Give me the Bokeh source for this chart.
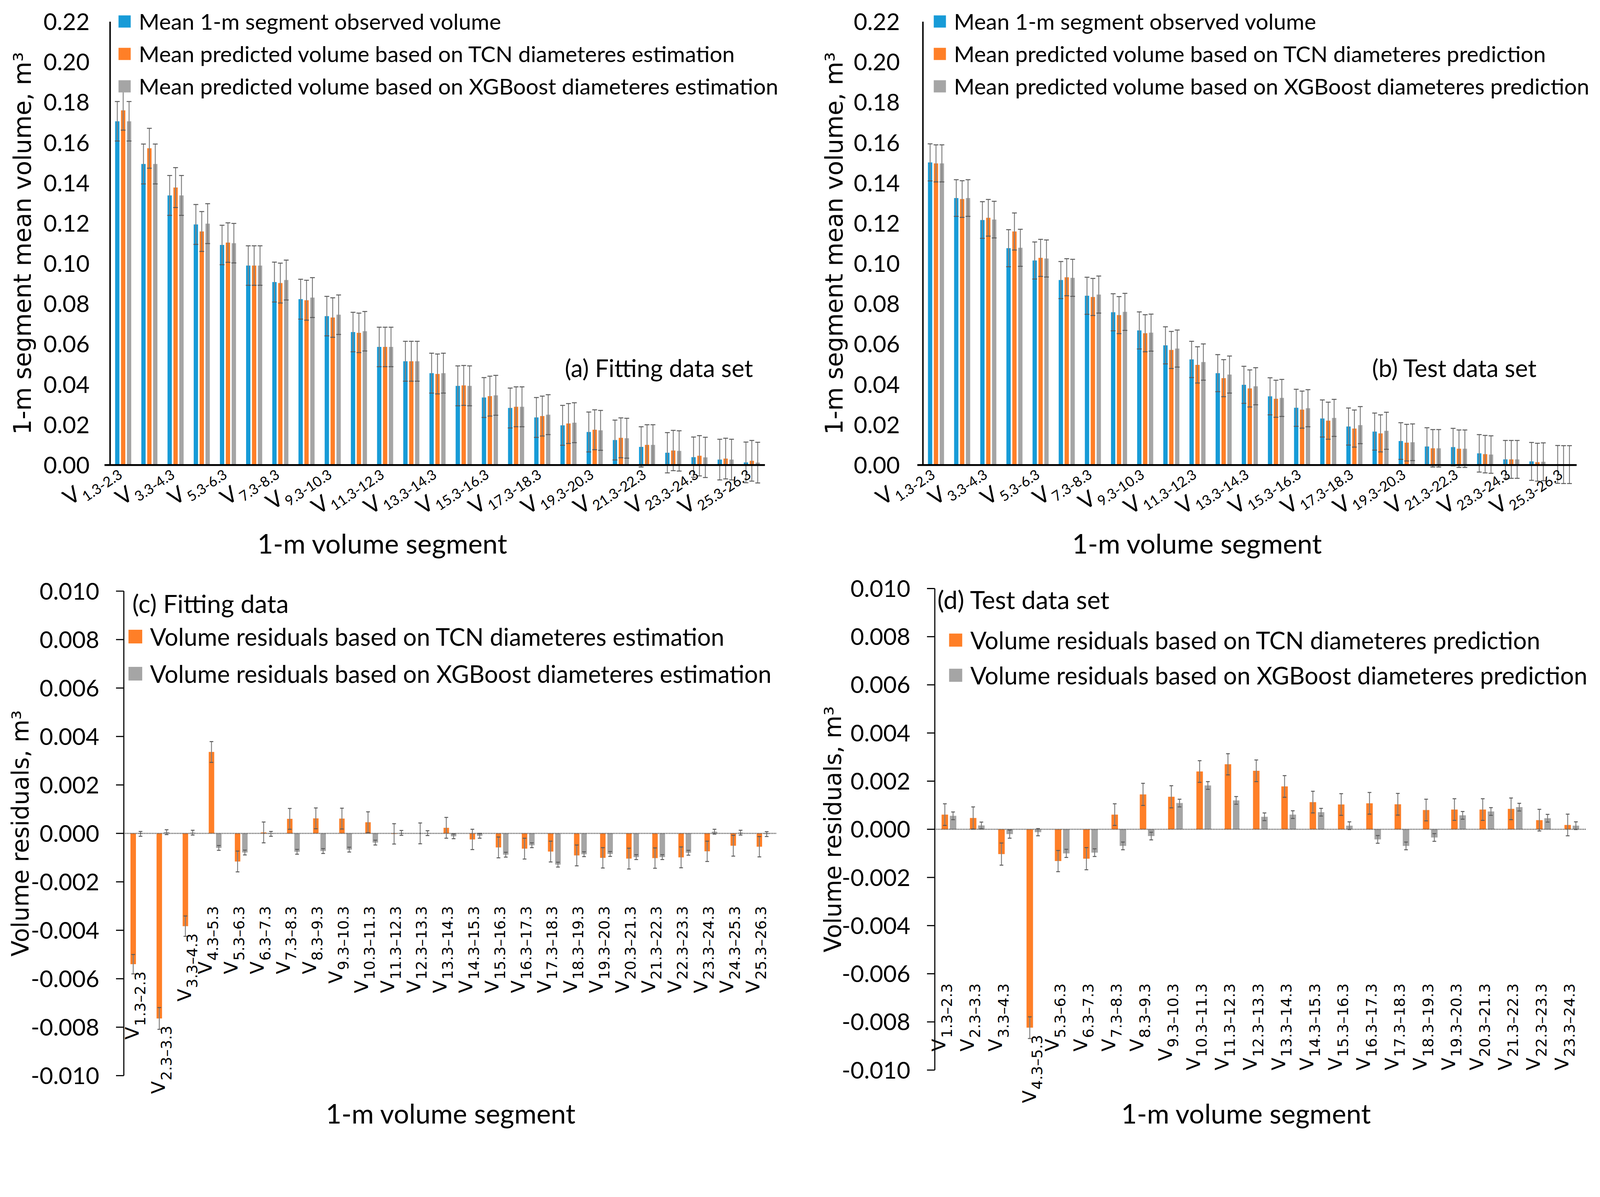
import math
from bokeh.plotting import figure
from bokeh.models import (ColumnDataSource, Legend, LegendItem, Range1d)
from bokeh.transform import dodge
from bokeh.layouts import row, column
from bokeh.core.properties import value
from bokeh.embed import file_html
from bokeh.resources import INLINE

# ---------------------------------------------------------------- data
segments_ab = ["1.3-2.3", "2.3-3.3", "3.3-4.3", "4.3-5.3", "5.3-6.3", "6.3-7.3",
               "7.3-8.3", "8.3-9.3", "9.3-10.3", "10.3-11.3", "11.3-12.3",
               "12.3-13.3", "13.3-14.3", "14.3-15.3", "15.3-16.3", "16.3-17.3",
               "17.3-18.3", "18.3-19.3", "19.3-20.3", "20.3-21.3", "21.3-22.3",
               "22.3-23.3", "23.3-24.3", "24.3-25.3", "25.3-26.3"]
tick_labels_ab = ["1.3-2.3", "3.3-4.3", "5.3-6.3", "7.3-8.3", "9.3-10.3",
                  "11.3-12.3", "13.3-14.3", "15.3-16.3", "17.3-18.3",
                  "19.3-20.3", "21.3-22.3", "23.3-24.3", "25.3-26.3"]

fit_observed = [0.1706, 0.1494, 0.1338, 0.1194, 0.1092, 0.0990, 0.0908, 0.0823,
                0.0739, 0.0660, 0.0586, 0.0515, 0.0456, 0.0393, 0.0335, 0.0283,
                0.0236, 0.0197, 0.0164, 0.0124, 0.0090, 0.0061, 0.0039, 0.0027, 0.0013]
fit_tcn = [0.1760, 0.1572, 0.1377, 0.1159, 0.1104, 0.0990, 0.0903, 0.0818,
           0.0732, 0.0656, 0.0586, 0.0515, 0.0452, 0.0395, 0.0342, 0.0289,
           0.0243, 0.0206, 0.0175, 0.0135, 0.0100, 0.0072, 0.0046, 0.0032, 0.0021]
fit_xgb = [0.1706, 0.1494, 0.1338, 0.1198, 0.1101, 0.0990, 0.0918, 0.0831,
           0.0746, 0.0664, 0.0586, 0.0515, 0.0456, 0.0393, 0.0346, 0.0289,
           0.0250, 0.0210, 0.0172, 0.0133, 0.0100, 0.0070, 0.0038, 0.0027, 0.0012]
fit_observed_err = [0.0098, 0.0099, 0.0099, 0.0099, 0.0098, 0.0098, 0.0099, 0.0099,
                    0.0098, 0.0098, 0.0098, 0.0099, 0.0099, 0.0099, 0.0099, 0.0099,
                    0.0099, 0.0099, 0.0099, 0.0099, 0.0100, 0.0100, 0.0100, 0.0101, 0.0101]
fit_tcn_err = [0.0098, 0.0099, 0.0099, 0.0099, 0.0098, 0.0098, 0.0099, 0.0099,
               0.0098, 0.0098, 0.0098, 0.0099, 0.0099, 0.0099, 0.0099, 0.0099,
               0.0099, 0.0099, 0.0099, 0.0099, 0.0100, 0.0100, 0.0100, 0.0101, 0.0101]
fit_xgb_err = [0.0098, 0.0099, 0.0099, 0.0099, 0.0098, 0.0098, 0.0099, 0.0099,
               0.0098, 0.0098, 0.0098, 0.0099, 0.0099, 0.0099, 0.0099, 0.0099,
               0.0099, 0.0099, 0.0099, 0.0099, 0.0100, 0.0100, 0.0100, 0.0101, 0.0101]

test_observed = [0.1502, 0.1325, 0.1216, 0.1076, 0.1015, 0.0918, 0.0840, 0.0758,
                 0.0668, 0.0594, 0.0524, 0.0456, 0.0398, 0.0341, 0.0284, 0.0231,
                 0.0191, 0.0166, 0.0119, 0.0092, 0.0089, 0.0058, 0.0028, 0.0018, 0.0003]
test_tcn = [0.1497, 0.1320, 0.1227, 0.1159, 0.1028, 0.0932, 0.0834, 0.0744,
            0.0654, 0.0571, 0.0497, 0.0431, 0.0380, 0.0329, 0.0275, 0.0220,
            0.0181, 0.0157, 0.0111, 0.0083, 0.0081, 0.0054, 0.0028, 0.0014, 0.0002]
test_xgb = [0.1497, 0.1325, 0.1218, 0.1078, 0.1025, 0.0929, 0.0846, 0.0760,
            0.0657, 0.0578, 0.0511, 0.0449, 0.0391, 0.0333, 0.0282, 0.0234,
            0.0198, 0.0170, 0.0113, 0.0083, 0.0081, 0.0052, 0.0028, 0.0016, 0.0002]
test_observed_err = [0.0092, 0.0091, 0.0091, 0.0092, 0.0092, 0.0092, 0.0092, 0.0092,
                     0.0092, 0.0092, 0.0090, 0.0092, 0.0092, 0.0092, 0.0092, 0.0092,
                     0.0092, 0.0092, 0.0091, 0.0093, 0.0093, 0.0093, 0.0094, 0.0094, 0.0094]
test_tcn_err = [0.0092, 0.0091, 0.0091, 0.0092, 0.0092, 0.0092, 0.0092, 0.0092,
                0.0092, 0.0092, 0.0090, 0.0092, 0.0092, 0.0092, 0.0092, 0.0092,
                0.0092, 0.0092, 0.0091, 0.0093, 0.0093, 0.0093, 0.0094, 0.0094, 0.0094]
test_xgb_err = [0.0092, 0.0091, 0.0091, 0.0092, 0.0092, 0.0092, 0.0092, 0.0092,
                0.0092, 0.0092, 0.0090, 0.0092, 0.0092, 0.0092, 0.0092, 0.0092,
                0.0092, 0.0092, 0.0091, 0.0093, 0.0093, 0.0093, 0.0094, 0.0094, 0.0094]

segments_c = ["1.3–2.3", "2.3–3.3", "3.3–4.3", "4.3–5.3", "5.3–6.3", "6.3–7.3",
              "7.3–8.3", "8.3–9.3", "9.3–10.3", "10.3–11.3", "11.3–12.3",
              "12.3–13.3", "13.3–14.3", "14.3–15.3", "15.3–16.3", "16.3–17.3",
              "17.3–18.3", "18.3–19.3", "19.3–20.3", "20.3–21.3", "21.3–22.3",
              "22.3–23.3", "23.3–24.3", "24.3–25.3", "25.3–26.3"]
res_fit_tcn = [-0.00540, -0.00764, -0.00383, 0.00336, -0.00116, 0.00004, 0.00060,
               0.00062, 0.00061, 0.00046, -0.00002, 0.00000, 0.00023, -0.00025,
               -0.00058, -0.00063, -0.00075, -0.00091, -0.00101, -0.00104,
               -0.00102, -0.00099, -0.00074, -0.00051, -0.00055]
res_fit_xgb = [-0.00002, 0.00005, 0.00003, -0.00060, -0.00079, -0.00002, -0.00076,
               -0.00073, -0.00067, -0.00038, 0.00002, 0.00001, -0.00012, -0.00010,
               -0.00088, -0.00049, -0.00129, -0.00086, -0.00085, -0.00098,
               -0.00098, -0.00080, 0.00007, 0.00003, -0.00003]
res_fit_tcn_err = [0.00040, 0.00045, 0.00042, 0.00043, 0.00043, 0.00043, 0.00043,
                   0.00043, 0.00043, 0.00043, 0.00042, 0.00043, 0.00043, 0.00042,
                   0.00043, 0.00043, 0.00043, 0.00043, 0.00042, 0.00043, 0.00042,
                   0.00043, 0.00042, 0.00043, 0.00042]
res_fit_xgb_err = [0.00010, 0.00010, 0.00010, 0.00010, 0.00010, 0.00010, 0.00010,
                   0.00010, 0.00010, 0.00010, 0.00010, 0.00010, 0.00010, 0.00010,
                   0.00010, 0.00010, 0.00010, 0.00010, 0.00010, 0.00010, 0.00010,
                   0.00010, 0.00010, 0.00010, 0.00010]

segments_d = ["1.3–2.3", "2.3–3.3", "3.3–4.3", "4.3–5.3", "5.3–6.3", "6.3–7.3",
              "7.3–8.3", "8.3–9.3", "9.3–10.3", "10.3–11.3", "11.3–12.3",
              "12.3–13.3", "13.3–14.3", "14.3–15.3", "15.3–16.3", "16.3–17.3",
              "17.3–18.3", "18.3–19.3", "19.3–20.3", "20.3–21.3", "21.3–22.3",
              "22.3–23.3", "23.3–24.3"]
res_test_tcn = [0.00061, 0.00047, -0.00103, -0.00824, -0.00132, -0.00122, 0.00061,
                0.00145, 0.00135, 0.00240, 0.00270, 0.00243, 0.00178, 0.00113,
                0.00103, 0.00108, 0.00104, 0.00080, 0.00082, 0.00082, 0.00085,
                0.00038, 0.00018]
res_test_xgb = [0.00056, 0.00016, -0.00020, -0.00012, -0.00100, -0.00097, -0.00069,
                -0.00028, 0.00109, 0.00182, 0.00120, 0.00052, 0.00061, 0.00071,
                0.00015, -0.00042, -0.00069, -0.00034, 0.00058, 0.00074, 0.00092,
                0.00046, 0.00015]
res_test_tcn_err = [0.00045, 0.00046, 0.00046, 0.00045, 0.00044, 0.00046, 0.00045,
                    0.00046, 0.00046, 0.00045, 0.00044, 0.00045, 0.00045, 0.00045,
                    0.00045, 0.00045, 0.00045, 0.00045, 0.00045, 0.00045, 0.00045,
                    0.00045, 0.00045]
res_test_xgb_err = [0.00016, 0.00014, 0.00017, 0.00015, 0.00017, 0.00016, 0.00016,
                    0.00016, 0.00016, 0.00016, 0.00016, 0.00016, 0.00016, 0.00016,
                    0.00016, 0.00016, 0.00016, 0.00016, 0.00016, 0.00016, 0.00016,
                    0.00016, 0.00016]

yticks_ab = [0.00, 0.02, 0.04, 0.06, 0.08, 0.10, 0.12, 0.14, 0.16, 0.18, 0.20, 0.22]
ytick_labels_ab = ["0.00", "0.02", "0.04", "0.06", "0.08", "0.10", "0.12", "0.14",
                   "0.16", "0.18", "0.20", "0.22"]
yticks_cd = [-0.010, -0.008, -0.006, -0.004, -0.002, 0.000, 0.002, 0.004, 0.006,
             0.008, 0.010]
ytick_labels_cd = ["-0.010", "-0.008", "-0.006", "-0.004", "-0.002", "0.000",
                   "0.002", "0.004", "0.006", "0.008", "0.010"]

# ---------------------------------------------------------------- style
BLUE = "#179BD7"
ORANGE = "#FF7F27"
GRAY = "#A5A5A5"
ERR = "#7F7F7F"
CAP = "#595959"
CAL = "Lato"          # stand-in for Calibri
VER = "DejaVu Sans"   # stand-in for Verdana

# The page is photographed at about 1.052 device px per CSS px, so every
# size below is given in photographed pixels and divided by K.
K = 4310 / 4096
FW, FH = 2040, 1448           # CSS px of each of the four figures


def c(v):
    return v / K


LATO_W = {"0": .58, "1": .58, "2": .58, "3": .58, "4": .58, "5": .58, "6": .58,
          "7": .58, "8": .58, "9": .58, ".": .26, "-": .35, "–": .5}
DJV_W = {"0": .636, "1": .636, "2": .636, "3": .636, "4": .636, "5": .636,
         "6": .636, "7": .636, "8": .636, "9": .636, ".": .318, "-": .361, "–": .5}


class Panel:
    """A figure whose frame fills the whole canvas.  The chart area spans
    categories -0.5..n-0.5 and y_lo..y_hi between the given edges (device px
    from the figure's top-left)."""

    def __init__(self, n, y_lo, y_hi, left, right, top, bottom):
        self.n, self.y_lo, self.y_hi = n, y_lo, y_hi
        left, right, top, bottom = c(left), c(right), c(top), c(bottom)
        self.ppx = (right - left) / n            # css px per category
        self.ppy = (bottom - top) / (y_hi - y_lo)
        self.x0 = -0.5 - left / self.ppx
        x1 = n - 0.5 + (FW - right) / self.ppx
        self.y1 = y_hi + top / self.ppy
        y0 = y_lo - (FH - bottom) / self.ppy
        p = figure(width=FW, height=FH, output_backend="svg", toolbar_location=None,
                   title=None, x_range=Range1d(self.x0, x1),
                   y_range=Range1d(y0, self.y1),
                   min_border_left=0, min_border_right=0, min_border_top=0,
                   min_border_bottom=0)
        p.xaxis.visible = False
        p.yaxis.visible = False
        p.xgrid.visible = False
        p.ygrid.visible = False
        p.outline_line_color = None
        p.background_fill_color = "white"
        p.border_fill_color = "white"
        self.p = p

    def X(self, px):          # device px from figure left -> data x
        return self.x0 + c(px) / self.ppx

    def Y(self, py):          # device px from figure top -> data y
        return self.y1 - c(py) / self.ppy

    def dx(self, px):
        return c(px) / self.ppx

    def dy(self, px):
        return c(px) / self.ppy

    def text(self, xs, ys, texts, font, size, align="left", baseline="middle",
             angle=0.0):
        src = ColumnDataSource(dict(x=xs, y=ys, t=texts))
        self.p.text(x="x", y="y", text="t", source=src, angle=angle,
                    text_align=align, text_baseline=baseline,
                    text_font=value(font), text_font_size=value(f"{c(size):.2f}px"),
                    text_color="black")

    def yaxis(self, ticks, labels, tick_out, standoff, lw, title, title_px,
              title_size):
        xa = -0.5
        p = self.p
        p.segment(x0=[xa], x1=[xa], y0=[self.y_lo], y1=[self.y_hi],
                  line_color="black", line_width=c(lw))
        if tick_out:
            p.segment(x0=[xa - self.dx(tick_out)] * len(ticks), x1=[xa] * len(ticks),
                      y0=ticks, y1=ticks, line_color="black", line_width=c(3))
        lx = xa - self.dx(tick_out + standoff)
        self.text([lx] * len(ticks), ticks, labels, CAL, 63, "right", "middle")
        self.text([self.X(title_px)], [(self.y_lo + self.y_hi) / 2], [title], VER,
                  title_size, "center", "middle", math.pi / 2)

    def bars(self, vals, errs, off, width, color, cap):
        idx = list(range(self.n))
        src = ColumnDataSource(dict(idx=idx, v=vals,
                                    hi=[v + e for v, e in zip(vals, errs)],
                                    lo=[v - e for v, e in zip(vals, errs)]))
        p = self.p
        r = p.vbar(x=dodge("idx", off), top="v", bottom=0, width=width, source=src,
                   fill_color=color, line_color=None)
        p.segment(x0=dodge("idx", off), x1=dodge("idx", off), y0="lo", y1="hi",
                  source=src, line_color=ERR, line_width=c(2.5))
        for col in ("hi", "lo"):
            p.scatter(x=dodge("idx", off), y=col, marker="dash", size=c(cap),
                      line_color=CAP, line_width=c(2.5), source=src)
        return r

    def sub_labels(self, xs, ybases, exs, subs, theta, font, vsize, ssize, ey,
                   delta, gap, table):
        """'V' followed by a subscripted range, all in device px.  (ex, ey) is
        the screen offset (y down) of the end of the subscript's centre line
        from (x, ybase); delta is how far the V's centre line sits above it."""
        cs, sn = math.cos(theta), math.sin(theta)
        sx, sy, vx, vy = [], [], [], []
        for x, yb, ex, t in zip(xs, ybases, exs, subs):
            w = sum(table.get(ch, 0.55) for ch in t) * ssize
            bx = ex - (w + gap) * cs - delta * sn
            by = ey + (w + gap) * sn - delta * cs
            sx.append(x + self.dx(ex))
            sy.append(yb - self.dy(ey))
            vx.append(x + self.dx(bx))
            vy.append(yb - self.dy(by))
        self.text(sx, sy, subs, font, ssize, "right", "middle", theta)
        self.text(vx, vy, ["V"] * len(subs), font, vsize, "right", "middle", theta)

    def legend(self, items, left_px, top_px, gw, size, standoff, spacing, lh):
        gw, standoff, spacing, lh = (round(c(v)) for v in (gw, standoff, spacing, lh))
        h = len(items) * lh + spacing * (len(items) - 1)
        lg = Legend(items=items, location=(c(left_px), FH - c(top_px) - h),
                    orientation="vertical", glyph_width=gw, glyph_height=gw,
                    label_standoff=standoff, spacing=spacing, padding=0, margin=0,
                    border_line_color=None, background_fill_alpha=0,
                    label_text_font=CAL, label_text_font_size=f"{c(size):.2f}px",
                    label_height=lh, label_text_color="black")
        self.p.add_layout(lg)


# ---------------------------------------------------------------- (a) and (b)
def volume_panel(left, right, obs, tcn, xgb, eo, et, ex_, names, tag, tag_px,
                 leg_left, title_px, label_standoff, xtitle_px):
    P = Panel(len(segments_ab), 0.0, 0.22, left, right, 58, 1252)
    rb = P.bars(obs, eo, -0.225, 0.165, BLUE, 13)
    ro = P.bars(tcn, et, 0.0, 0.165, ORANGE, 13)
    rg = P.bars(xgb, ex_, 0.225, 0.165, GRAY, 13)
    P.p.segment(x0=[-0.5 - P.dx(15)], x1=[P.n - 0.5], y0=[0], y1=[0],
                line_color="black", line_width=c(5))
    P.yaxis(yticks_ab, ytick_labels_ab, 0, label_standoff, 4,
            "1-m segment mean volume, m³", title_px, 65)
    tick_idx = [segments_ab.index(t) for t in tick_labels_ab]
    P.sub_labels(tick_idx, [0.0] * len(tick_idx), [-7] * len(tick_idx),
                 tick_labels_ab, math.radians(34), CAL, 60, 38, 21, 25, 2, LATO_W)
    items = [LegendItem(label=names[0], renderers=[rb]),
             LegendItem(label=names[1], renderers=[ro]),
             LegendItem(label=names[2], renderers=[rg])]
    P.legend(items, leg_left, 17, 41, 60, 18, 7, 80)
    P.text([P.X(tag_px[0])], [P.Y(tag_px[1])], [tag], CAL, 65)
    P.text([P.X(xtitle_px[0])], [P.Y(xtitle_px[1])], ["1-m volume segment"], CAL, 73)
    return P.p


pa = volume_panel(296, 2060, fit_observed, fit_tcn, fit_xgb, fit_observed_err,
                  fit_tcn_err, fit_xgb_err,
                  ["Mean 1-m segment observed volume",
                   "Mean predicted volume based on TCN diameteres estimation",
                   "Mean predicted volume based on XGBoost diameteres estimation"],
                  "(a) Fitting data set", (1521, 990), 315, 61, 55, (693, 1463))
pb = volume_panel(339, 2100, test_observed, test_tcn, test_xgb, test_observed_err,
                  test_tcn_err, test_xgb_err,
                  ["Mean 1-m segment observed volume",
                   "Mean predicted volume based on TCN diameteres prediction",
                   "Mean predicted volume based on XGBoost diameteres prediction"],
                  "(b)  Test data set", (1549, 990), 364, 101, 62, (741, 1463))


# ---------------------------------------------------------------- (c) and (d)
def residual_panel(segs, tcn, xgb, et, ex_, left, right, top, bottom, default_top,
                   names, tag, tag_px, leg_px, gw, spacing, standoff, title_px,
                   xtitle_px, off, width):
    P = Panel(len(segs), -0.010, 0.010, left, right, top, bottom)
    ro = P.bars(tcn, et, -off, width, ORANGE, 10)
    rg = P.bars(xgb, ex_, off, width, GRAY, 10)
    P.p.segment(x0=[-0.5], x1=[P.n - 0.5], y0=[0], y1=[0], line_color="#404040",
                line_width=c(3), line_dash="2 2")
    P.yaxis(yticks_cd, ytick_labels_cd, 21, 45, 3, "Volume residuals, m³", title_px,
            63)
    # labels sit at a common height, or just under a bar that reaches below it
    tops, exs = [], []
    for a, b in zip(tcn, xgb):
        low = min(a, b) - 0.0003
        tops.append(min(default_top, low))
        exs.append(9 if low < default_top else -6)
    P.sub_labels(list(range(P.n)), tops, exs, segs, math.pi / 2, VER, 50, 40, 0,
                 21, 2, DJV_W)
    items = [LegendItem(label=names[0], renderers=[ro]),
             LegendItem(label=names[1], renderers=[rg])]
    P.legend(items, leg_px[0], leg_px[1], gw, 65, standoff, spacing, 80)
    P.text([P.X(tag_px[0])], [P.Y(tag_px[1])], [tag], CAL, 68)
    P.text([P.X(xtitle_px[0])], [P.Y(xtitle_px[1])], ["1-m volume segment"], CAL, 73)
    return P.p


pc = residual_panel(segments_c, res_fit_tcn, res_fit_xgb, res_fit_tcn_err,
                    res_fit_xgb_err, 333, 2090, 68, 1373, -0.0030,
                    ["Volume residuals based on TCN diameteres estimation",
                     "Volume residuals based on XGBoost diameteres estimation"],
                    "(c) Fitting data", (356, 100), (341, 150), 46, 20, 17,
                    54, (877, 1474), 0.14, 0.21)
pd_ = residual_panel(segments_d, res_test_tcn, res_test_xgb, res_test_tcn_err,
                     res_test_xgb_err, 371, 2125, 61, 1358, -0.0064,
                     ["Volume residuals based on TCN diameteres prediction",
                      "Volume residuals based on XGBoost diameteres prediction"],
                     "(d) Test data set", (378, 90), (405, 160), 44, 15, 18,
                     96, (873, 1474), 0.145, 0.23)

layout = column(row(pa, pb), row(pc, pd_))
open("out.html", "w").write(file_html(layout, INLINE))
